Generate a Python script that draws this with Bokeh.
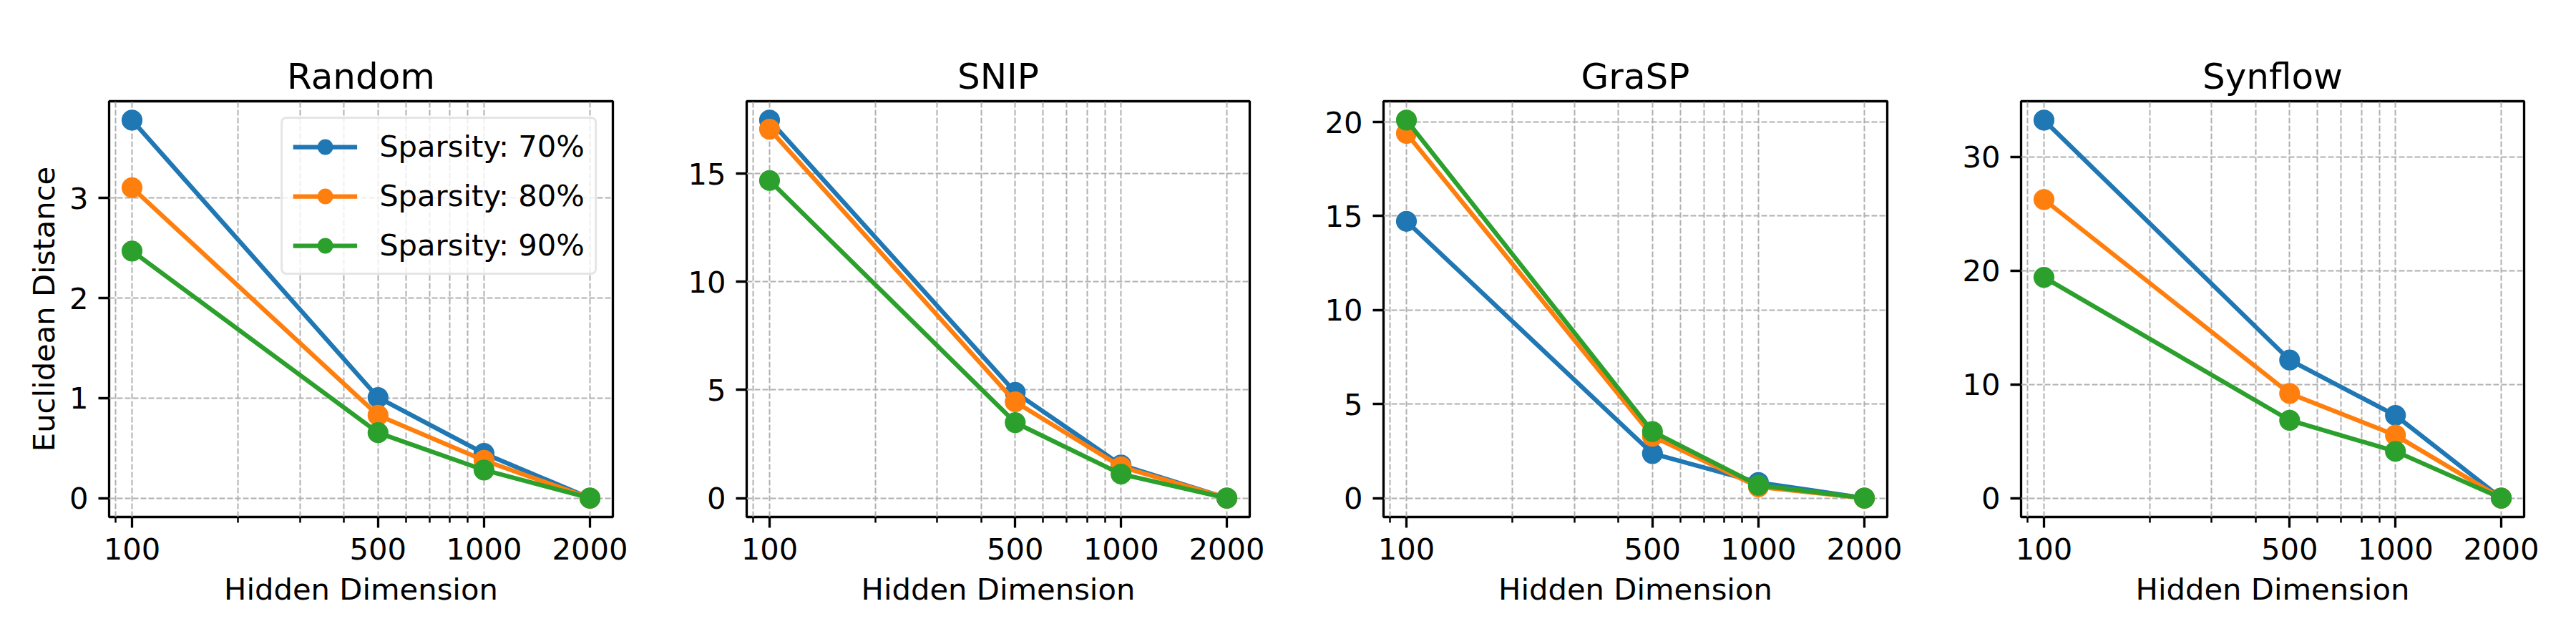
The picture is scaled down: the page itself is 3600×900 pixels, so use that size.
import math
from bokeh.plotting import figure
from bokeh.layouts import row
from bokeh.models import Range1d, FixedTicker, PrintfTickFormatter
from bokeh.embed import file_html
from bokeh.resources import INLINE

# ---------------- data ----------------
hidden_dims = [100, 500, 1000, 2000]
x_major_ticks = [100, 500, 1000, 2000]
x_minor_ticks = [90, 200, 300, 400, 600, 700, 800, 900]
methods = ["Random", "SNIP", "GraSP", "Synflow"]
sparsity_labels = ["Sparsity: 70%", "Sparsity: 80%", "Sparsity: 90%"]

random_70 = [3.78, 1.006, 0.447, 0.0]
random_80 = [3.105, 0.828, 0.377, 0.0]
random_90 = [2.471, 0.654, 0.281, 0.0]

snip_70 = [17.47, 4.89, 1.53, 0.0]
snip_80 = [17.05, 4.45, 1.45, 0.0]
snip_90 = [14.68, 3.49, 1.11, 0.0]

grasp_70 = [14.72, 2.37, 0.83, 0.0]
grasp_80 = [19.40, 3.29, 0.60, 0.0]
grasp_90 = [20.10, 3.54, 0.68, 0.0]

synflow_70 = [33.23, 12.14, 7.27, 0.0]
synflow_80 = [26.25, 9.20, 5.53, 0.0]
synflow_90 = [19.41, 6.84, 4.11, 0.0]

y_ticks_random = [0, 1, 2, 3]
y_ticks_snip = [0, 5, 10, 15]
y_ticks_grasp = [0, 5, 10, 15, 20]
y_ticks_synflow = [0, 10, 20, 30]

series_by_method = {
    "Random": [random_70, random_80, random_90],
    "SNIP": [snip_70, snip_80, snip_90],
    "GraSP": [grasp_70, grasp_80, grasp_90],
    "Synflow": [synflow_70, synflow_80, synflow_90],
}
yticks_by_method = {
    "Random": y_ticks_random,
    "SNIP": y_ticks_snip,
    "GraSP": y_ticks_grasp,
    "Synflow": y_ticks_synflow,
}

colors = ["#1f77b4", "#ff7f0e", "#2ca02c"]

# ---------------- style ----------------
FONT = "DejaVu Sans"
TICK_FS = "41.7px"
TITLE_FS = "50px"
GRID_COLOR = "#b0b0b0"

fig_widths = [893, 890, 891, 910]
left_borders = [152, 150, 150, 150]
right_borders = [37, 37, 37, 57]

lo = math.log10(min(hidden_dims))
hi = math.log10(max(hidden_dims))
span = hi - lo
x_start = 10 ** (lo - 0.05 * span)
x_end = 10 ** (hi + 0.05 * span)

figs = []
for i, m in enumerate(methods):
    series = series_by_method[m]
    ymax = max(max(s) for s in series)
    ymin = min(min(s) for s in series)
    yr = ymax - ymin
    p = figure(
        width=fig_widths[i], height=884,
        x_axis_type="log",
        x_range=Range1d(x_start, x_end),
        y_range=Range1d(ymin - 0.05 * yr, ymax + 0.05 * yr),
        output_backend="svg", toolbar_location=None,
        min_border_left=left_borders[i], min_border_right=right_borders[i],
        min_border_top=141, min_border_bottom=162,
        title=m,
    )
    p.background_fill_color = "white"
    p.border_fill_color = "white"
    p.outline_line_color = "black"
    p.outline_line_width = 3.3

    p.title.text_font = FONT
    p.title.text_font_size = TITLE_FS
    p.title.text_font_style = "normal"
    p.title.text_color = "black"
    p.title.align = "center"
    p.title.standoff = 12

    # axes
    p.xaxis.ticker = FixedTicker(ticks=x_major_ticks, minor_ticks=x_minor_ticks)
    p.xaxis.formatter = PrintfTickFormatter(format="%d")
    p.yaxis.ticker = FixedTicker(ticks=yticks_by_method[m])
    for ax in (p.xaxis, p.yaxis):
        ax.axis_line_color = None
        ax.major_tick_line_color = "black"
        ax.major_tick_line_width = 3.3
        ax.major_tick_out = 15
        ax.major_tick_in = 0
        ax.minor_tick_line_color = "black"
        ax.minor_tick_line_width = 2.5
        ax.minor_tick_out = 8
        ax.minor_tick_in = 0
        ax.major_label_text_font = FONT
        ax.major_label_text_font_size = TICK_FS
        ax.major_label_text_color = "black"
        ax.major_label_standoff = 14
        ax.axis_label_text_font = FONT
        ax.axis_label_text_font_size = TICK_FS
        ax.axis_label_text_font_style = "normal"
        ax.axis_label_text_color = "black"
    p.yaxis.minor_tick_line_color = None
    p.xaxis.axis_label = "Hidden Dimension"
    p.xaxis.axis_label_standoff = 14
    if i == 0:
        p.yaxis.axis_label = "Euclidean Distance"
        p.yaxis.axis_label_standoff = 8

    # grid
    for g in (p.xgrid, p.ygrid):
        g.grid_line_color = GRID_COLOR
        g.grid_line_width = 2
        g.grid_line_dash = "8 3"
    p.xgrid.minor_grid_line_color = GRID_COLOR
    p.xgrid.minor_grid_line_width = 2
    p.xgrid.minor_grid_line_dash = "8 3"

    for s, c, lab in zip(series, colors, sparsity_labels):
        kw = dict(legend_label=lab) if i == 0 else {}
        p.line(hidden_dims, s, line_color=c, line_width=6.25, **kw)
        p.scatter(hidden_dims, s, marker="circle", size=25, fill_color=c,
                  line_color=c, line_width=4.2, **kw)

    if i == 0:
        lg = p.legend[0]
        lg.location = "top_right"
        lg.margin = 22
        lg.padding = 14
        lg.spacing = 20
        lg.glyph_width = 90
        lg.glyph_height = 44
        lg.label_height = 44
        lg.label_standoff = 31
        lg.label_text_font = FONT
        lg.label_text_font_size = TICK_FS
        lg.label_text_color = "black"
        lg.border_line_color = "#cccccc"
        lg.border_line_width = 3.3
        lg.background_fill_color = "white"
        lg.background_fill_alpha = 0.8
        try:
            lg.border_radius = 8
        except Exception:
            pass

    figs.append(p)

layout = row(*figs)
open("out.html", "w").write(file_html(layout, INLINE))
